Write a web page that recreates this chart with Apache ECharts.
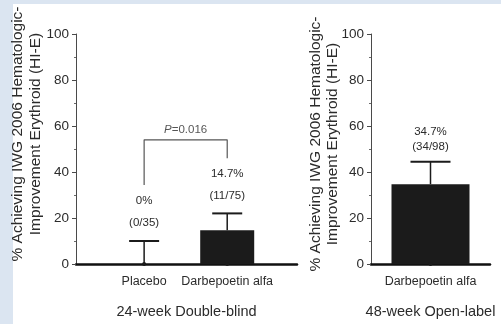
<!DOCTYPE html>
<html>
<head>
<meta charset="utf-8">
<script src="https://cdn.jsdelivr.net/npm/echarts@6/dist/echarts.min.js"></script>
<style>
  html, body { margin: 0; padding: 0; background: #dbe5f1; }
  #panel { position: absolute; left: 13px; top: 4px; right: 0; bottom: 0; background: #ffffff; }
  #chart { position: absolute; left: 0; top: 0; width: 501px; height: 324px; }
</style>
</head>
<body>
<div id="panel"></div>
<div id="chart"></div>
<script>
// 24-week double-blind phase
const blindCategories = ['Placebo', 'Darbepoetin alfa'];
const blindPercent = [0, 14.7];
const blindUpper = [10, 22];
const blindCounts = ['(0/35)', '(11/75)'];

// 48-week open-label phase
const openCategories = ['Darbepoetin alfa'];
const openPercent = [34.7];
const openUpper = [44.5];
const openCounts = ['(34/98)'];

// Comparison bracket between the two double-blind arms
const pValue = '0.016';
const bracketLeftFoot = 34.3;
const bracketTop = 54;
const bracketRightFoot = 46;

const yTicks = { min: 0, max: 100, step: 20 };
const yTitle = '% Achieving IWG 2006 Hematologic-\nImprovement Erythroid (HI-E)';

const FONT = 'Liberation Sans, Arial, Helvetica, sans-serif';
const INK = '#1b1b1b';
const TEXT = '#2b2b2b';

const chart = echarts.init(document.getElementById('chart'), null, { renderer: 'canvas' });

function yAxisFor(gridIndex) {
  return {
    type: 'value', gridIndex: gridIndex,
    min: yTicks.min, max: yTicks.max, interval: yTicks.step,
    axisLine: { show: true, lineStyle: { color: '#4a4a4a', width: 1 } },
    axisTick: { show: true, length: 4, lineStyle: { color: '#4a4a4a' } },
    minorTick: { show: true, splitNumber: 2, length: 2, lineStyle: { color: '#6a6a6a' } },
    splitLine: { show: false },
    axisLabel: { color: TEXT, fontFamily: FONT, fontSize: 13.5, margin: 7 }
  };
}

function xAxisFor(gridIndex, cats, min, max, title) {
  return {
    type: 'value', gridIndex: gridIndex, min: min, max: max,
    axisLine: { show: true, onZero: false, lineStyle: { color: '#111', width: 2.5 } },
    axisTick: { show: false },
    splitLine: { show: false },
    axisLabel: {
      customValues: cats.map((c, i) => i + 1),
      formatter: v => cats[Math.round(v) - 1] || '',
      color: TEXT, fontFamily: FONT, fontSize: 12.5, margin: 11
    },
    name: title, nameLocation: 'middle', nameGap: 40,
    nameTextStyle: { color: TEXT, fontFamily: FONT, fontSize: 14.5 }
  };
}

// Error whisker with cap, a dot on the baseline and the two value labels above it
function errorRenderer(counts, layout) {
  return function (params, api) {
    const x = api.value(0), v = api.value(1), hi = api.value(2);
    const zero = api.coord([x, 0]);
    const base = api.coord([x, v]);
    const top = api.coord([x, hi]);
    const half = layout.cap / 2;
    return {
      type: 'group',
      children: [
        { type: 'line', shape: { x1: base[0], y1: base[1], x2: top[0], y2: top[1] },
          style: { stroke: INK, lineWidth: 1.5 } },
        { type: 'line', shape: { x1: top[0] - half, y1: top[1], x2: top[0] + half, y2: top[1] },
          style: { stroke: INK, lineWidth: 2 } },
        { type: 'circle', shape: { cx: zero[0], cy: zero[1], r: 2 }, style: { fill: INK } },
        { type: 'text', x: top[0], y: top[1] - layout.pct,
          style: { text: v + '%', fill: TEXT, font: '11.5px ' + FONT, align: 'center', verticalAlign: 'middle' } },
        { type: 'text', x: top[0], y: top[1] - layout.n,
          style: { text: counts[params.dataIndex], fill: TEXT, font: '11.5px ' + FONT, align: 'center', verticalAlign: 'middle' } }
      ]
    };
  };
}

const blindPositions = blindCategories.map((c, i) => i + 1);
const openPositions = openCategories.map((c, i) => i + 1);

chart.setOption({
  animation: false,
  backgroundColor: 'transparent',
  grid: [
    { left: 76, top: 34, width: 221, height: 230 },
    { left: 371, top: 34, width: 119, height: 230 }
  ],
  xAxis: [
    xAxisFor(0, blindCategories, 0.18, 2.84, '24-week Double-blind'),
    xAxisFor(1, openCategories, 0, 2, '48-week Open-label')
  ],
  yAxis: [yAxisFor(0), yAxisFor(1)],
  graphic: [
    { type: 'text', x: 27, y: 134, rotation: Math.PI / 2,
      style: { text: yTitle, fill: TEXT, font: '15.5px ' + FONT, align: 'center', verticalAlign: 'middle', lineHeight: 18 } },
    { type: 'text', x: 324, y: 144, rotation: Math.PI / 2,
      style: { text: yTitle, fill: TEXT, font: '15.5px ' + FONT, align: 'center', verticalAlign: 'middle', lineHeight: 17 } }
  ],
  series: [
    { type: 'bar', xAxisIndex: 0, yAxisIndex: 0, barWidth: 54,
      itemStyle: { color: INK },
      data: blindPositions.map((p, i) => [p, blindPercent[i]]) },
    { type: 'custom', xAxisIndex: 0, yAxisIndex: 0, clip: false,
      renderItem: errorRenderer(blindCounts, { cap: 30, pct: 40, n: 18 }),
      data: blindPositions.map((p, i) => [p, blindPercent[i], blindUpper[i]]), z: 3 },
    { type: 'line', xAxisIndex: 0, yAxisIndex: 0, symbol: 'none', silent: true,
      lineStyle: { color: '#555', width: 1.2 },
      data: [[blindPositions[0], bracketLeftFoot], [blindPositions[0], bracketTop],
             [blindPositions[1], bracketTop], [blindPositions[1], bracketRightFoot]] },
    { type: 'scatter', xAxisIndex: 0, yAxisIndex: 0, symbolSize: 0, silent: true,
      data: [[(blindPositions[0] + blindPositions[1]) / 2, bracketTop]],
      label: {
        show: true, position: 'top', distance: 4,
        formatter: '{i|P}{n|=' + pValue + '}',
        rich: {
          i: { fontStyle: 'italic', fontFamily: FONT, fontSize: 11.5, color: TEXT },
          n: { fontFamily: FONT, fontSize: 11.5, color: TEXT }
        }
      } },
    { type: 'bar', xAxisIndex: 1, yAxisIndex: 1, barWidth: 78,
      itemStyle: { color: INK },
      data: openPositions.map((p, i) => [p, openPercent[i]]) },
    { type: 'custom', xAxisIndex: 1, yAxisIndex: 1, clip: false,
      renderItem: errorRenderer(openCounts, { cap: 40, pct: 30, n: 15 }),
      data: openPositions.map((p, i) => [p, openPercent[i], openUpper[i]]), z: 3 }
  ]
});
</script>
</body>
</html>
